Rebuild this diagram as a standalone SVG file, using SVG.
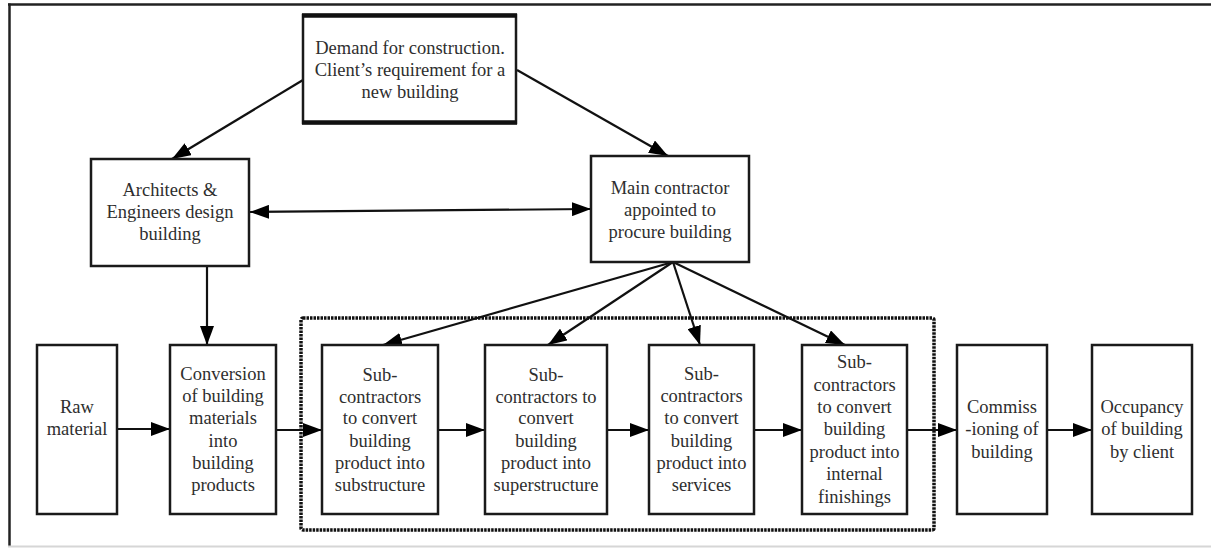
<svg xmlns="http://www.w3.org/2000/svg" width="1211" height="548" viewBox="0 0 1211 548">
<style>
.box{fill:#fff;stroke:#1a1a1a;stroke-width:2.5}
.t{font-family:"Liberation Serif","Times New Roman",serif;font-size:18.5px;fill:#2e2e2e;text-anchor:middle}
.c{stroke:#111;stroke-width:2.2;fill:none}
</style>
<defs>
<marker id="ah" markerUnits="userSpaceOnUse" markerWidth="19" markerHeight="14" refX="19" refY="7" orient="auto-start-reverse" viewBox="0 0 19 14">
<path d="M0,0 L19,7 L0,14 z" fill="#000"/>
</marker>
</defs>
<rect x="0" y="0" width="1211" height="548" fill="#fff"/>
<g id="frame">
<line x1="8" y1="4.5" x2="1211" y2="4.5" stroke="#222" stroke-width="2.5"/>
<line x1="9.5" y1="3.5" x2="9.5" y2="546" stroke="#222" stroke-width="2.5"/>
<line x1="8" y1="546.5" x2="1211" y2="546.5" stroke="#d6d6d6" stroke-width="2"/>
</g>
<g id="group-subcontractors">
<rect x="301" y="318" width="633" height="212" rx="2" fill="none" stroke="#111" stroke-width="3.5" stroke-dasharray="2.5 1"/>
</g>
<g id="connectors">
<line class="c" x1="303" y1="80" x2="172" y2="159" marker-end="url(#ah)"/>
<line class="c" x1="517" y1="70" x2="668" y2="156" marker-end="url(#ah)"/>
<line class="c" x1="250" y1="212" x2="591" y2="209" marker-start="url(#ah)" marker-end="url(#ah)"/>
<line class="c" x1="207" y1="266" x2="207" y2="345" marker-end="url(#ah)"/>
<line class="c" x1="673" y1="262" x2="383" y2="345" marker-end="url(#ah)"/>
<line class="c" x1="673" y1="262" x2="548" y2="345" marker-end="url(#ah)"/>
<line class="c" x1="673" y1="262" x2="700" y2="345" marker-end="url(#ah)"/>
<line class="c" x1="673" y1="262" x2="845" y2="345" marker-end="url(#ah)"/>
<line class="c" x1="117" y1="429" x2="170" y2="429" marker-end="url(#ah)"/>
<line class="c" x1="276" y1="430" x2="322" y2="430" marker-end="url(#ah)"/>
<line class="c" x1="438" y1="430" x2="485" y2="430" marker-end="url(#ah)"/>
<line class="c" x1="607" y1="430" x2="649" y2="430" marker-end="url(#ah)"/>
<line class="c" x1="754" y1="430" x2="802" y2="430" marker-end="url(#ah)"/>
<line class="c" x1="907" y1="430" x2="957" y2="430" marker-end="url(#ah)"/>
<line class="c" x1="1047" y1="430" x2="1092" y2="430" marker-end="url(#ah)"/>
</g>
<g id="demand">
<rect class="box" x="303" y="15" width="213" height="108"/>
<line x1="302" y1="15.5" x2="517" y2="15.5" stroke="#111" stroke-width="4.5"/>
<line x1="302" y1="122.5" x2="517" y2="122.5" stroke="#111" stroke-width="4.5"/>
<text class="t" x="410" y="54">Demand for construction.</text>
<text class="t" x="410" y="76">Client’s requirement for a</text>
<text class="t" x="410" y="98">new building</text>
</g>
<g id="architects">
<rect class="box" x="91" y="159" width="158" height="107"/>
<text class="t" x="170" y="196">Architects &amp;</text>
<text class="t" x="170" y="218">Engineers design</text>
<text class="t" x="170" y="240">building</text>
</g>
<g id="main-contractor">
<rect class="box" x="591" y="156" width="158" height="106"/>
<text class="t" x="670" y="194">Main contractor</text>
<text class="t" x="670" y="216">appointed to</text>
<text class="t" x="670" y="238">procure building</text>
</g>
<g id="raw-material">
<rect class="box" x="37" y="345" width="80" height="169"/>
<text class="t" x="77" y="413">Raw</text>
<text class="t" x="77" y="435">material</text>
</g>
<g id="conversion">
<rect class="box" x="170" y="345" width="106" height="169"/>
<text class="t" x="223" y="380">Conversion</text>
<text class="t" x="223" y="402">of building</text>
<text class="t" x="223" y="424">materials</text>
<text class="t" x="223" y="447">into</text>
<text class="t" x="223" y="469">building</text>
<text class="t" x="223" y="491">products</text>
</g>
<g id="sub-substructure">
<rect class="box" x="322" y="345" width="116" height="169"/>
<text class="t" x="380" y="381">Sub-</text>
<text class="t" x="380" y="403">contractors</text>
<text class="t" x="380" y="424">to convert</text>
<text class="t" x="380" y="447">building</text>
<text class="t" x="380" y="469">product into</text>
<text class="t" x="380" y="491">substructure</text>
</g>
<g id="sub-superstructure">
<rect class="box" x="485" y="345" width="122" height="169"/>
<text class="t" x="546" y="381">Sub-</text>
<text class="t" x="546" y="403">contractors to</text>
<text class="t" x="546" y="424">convert</text>
<text class="t" x="546" y="447">building</text>
<text class="t" x="546" y="469">product into</text>
<text class="t" x="546" y="491">superstructure</text>
</g>
<g id="sub-services">
<rect class="box" x="649" y="345" width="105" height="169"/>
<text class="t" x="701.5" y="380">Sub-</text>
<text class="t" x="701.5" y="402">contractors</text>
<text class="t" x="701.5" y="424">to convert</text>
<text class="t" x="701.5" y="447">building</text>
<text class="t" x="701.5" y="469">product into</text>
<text class="t" x="701.5" y="491">services</text>
</g>
<g id="sub-finishings">
<rect class="box" x="802" y="345" width="105" height="169"/>
<text class="t" x="854.5" y="368">Sub-</text>
<text class="t" x="854.5" y="390.5">contractors</text>
<text class="t" x="854.5" y="413">to convert</text>
<text class="t" x="854.5" y="435">building</text>
<text class="t" x="854.5" y="458">product into</text>
<text class="t" x="854.5" y="480">internal</text>
<text class="t" x="854.5" y="503">finishings</text>
</g>
<g id="commissioning">
<rect class="box" x="957" y="345" width="90" height="169"/>
<text class="t" x="1002" y="413">Commiss</text>
<text class="t" x="1002" y="435">-ioning of</text>
<text class="t" x="1002" y="458">building</text>
</g>
<g id="occupancy">
<rect class="box" x="1092" y="345" width="100" height="169"/>
<text class="t" x="1142" y="413">Occupancy</text>
<text class="t" x="1142" y="435">of building</text>
<text class="t" x="1142" y="458">by client</text>
</g>
</svg>
